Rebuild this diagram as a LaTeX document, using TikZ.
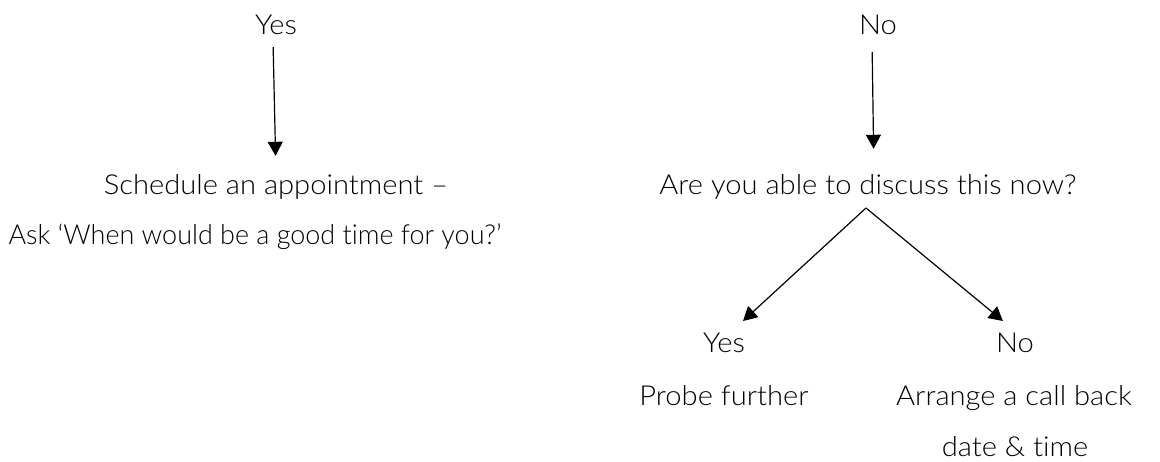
\documentclass[tikz,border=0pt]{standalone}
\usepackage{fontspec}
\setmainfont{Lato}[UprightFont={* Light},Ligatures=NoCommon,FakeStretch=1.06]
\newfontfamily\narrowlato{Lato}[UprightFont={* Light},Ligatures=NoCommon,FakeStretch=0.98]
\usetikzlibrary{arrows.meta}
\begin{document}
\begin{tikzpicture}[x=1pt,y=-1pt,
  lbl/.style={anchor=base,inner sep=0pt,text height=19pt,text depth=6pt,font=\fontsize{27.5}{30}\selectfont},
  conn/.style={line width=1.2pt,-{Triangle[length=14pt,width=15pt]}}]
\useasboundingbox (0,0) rectangle (1160,461);
\node[lbl] (yesA) at (276,34) {Yes};
\node[lbl] (noA) at (878,34) {No};
\node[lbl] (sched) at (276,194) {Schedule an appointment –};
\node[lbl,font=\narrowlato\fontsize{27.5}{30}\selectfont] (ask) at (255,244) {Ask ‘When would be a good time for you?’};
\node[lbl] (q) at (868,194) {Are you able to discuss this now?};
\node[lbl] (yesB) at (724,352) {Yes};
\node[lbl] (noB) at (1015,352) {No};
\node[lbl] (probe) at (724,405) {Probe further};
\node[lbl] (arr) at (1014,405) {Arrange a call back};
\node[lbl] (date) at (1015,456) {date \& time};
\coordinate (apex) at (866,208);
\coordinate (tipL) at (743,321);
\coordinate (tipR) at (1003,321);
\draw[conn,shorten <=7pt,shorten >=19pt] ([xshift=-3pt]yesA.south) -- (sched.north);
\draw[conn,shorten <=12pt,shorten >=26pt] ([xshift=-6pt]noA.south) -- ([xshift=6pt]q.north);
\draw[conn] (apex) -- (tipL);
\draw[conn] (apex) -- (tipR);
\end{tikzpicture}
\end{document}
